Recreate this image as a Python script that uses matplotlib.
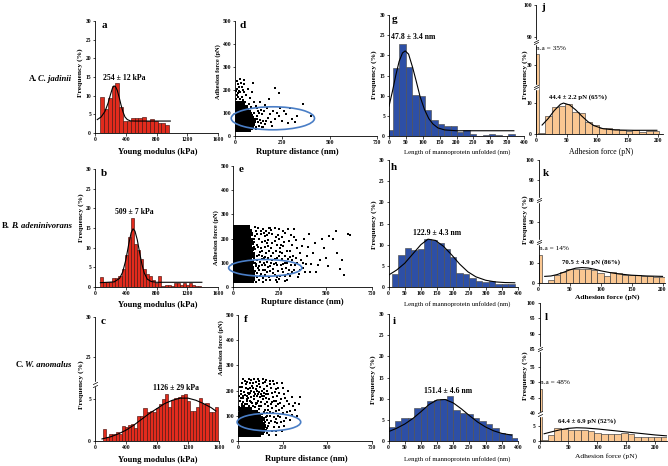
import matplotlib
matplotlib.use('Agg')
import matplotlib.pyplot as plt
from matplotlib.patches import Ellipse
from matplotlib.ticker import NullLocator
from matplotlib.transforms import offset_copy
import numpy as np

plt.rcParams['font.family'] = ['Liberation Serif', 'DejaVu Serif']
plt.rcParams['font.weight'] = 'bold'

W, H = 668, 466

# ---------------- data ----------------
# Young modulus histograms (kPa, %)
a_start, a_width = 65, 50
a_freq = [9.6, 6.5, 9.4, 12.5, 13.3, 7.0, 3.3, 3.3, 4.0, 4.0, 4.0, 4.2, 3.3, 3.8, 3.3, 2.8, 2.8, 2.2]
a_fit = [(30, 3.6), (80, 4.3), (130, 5.8), (170, 8.0), (200, 10.2), (225, 11.9), (245, 12.6), (265, 12.5),
         (290, 11.4), (315, 9.5), (340, 7.4), (365, 5.6), (390, 4.3), (420, 3.6), (460, 3.25), (520, 3.2), (980, 3.2)]

b_start, b_width = 65, 40
b_freq = [2.5, 1.2, 1.2, 1.3, 2.2, 2.2, 2.8, 4.5, 8.2, 12.6, 17.6, 11.0, 9.5, 7.0, 4.6, 3.2, 2.7, 1.8, 1.0,
          2.8, 0.3, 0.6, 0.6, 0.3, 0.9, 0.9, 0.6, 0.9, 0.5, 0.9, 0.6, 0.3, 0.3]
b_fit = [(70, 1.1), (250, 1.3), (320, 2.2), (360, 3.8), (400, 6.8), (440, 11.0), (470, 13.8), (495, 14.8),
         (520, 14.2), (550, 12.0), (580, 8.8), (610, 5.8), (640, 3.6), (680, 2.0), (730, 1.4), (800, 1.2), (1390, 1.2)]

c_start, c_width = 105, 40
c_freq = [1.5, 0.5, 0.8, 0.9, 1.1, 0.8, 1.8, 1.7, 1.9, 2.0, 1.6, 3.0, 3.0, 4.0, 3.5, 3.6, 3.5, 4.0, 4.4,
          5.0, 5.6, 4.1, 4.9, 5.2, 5.3, 5.5, 5.6, 4.8, 3.6, 3.6, 4.1, 5.2, 4.4, 4.6, 3.5, 3.5, 4.1]
c_fit = [(90, 0.25), (200, 0.5), (300, 0.85), (400, 1.3), (500, 1.9), (600, 2.6), (700, 3.3), (800, 3.9),
         (900, 4.5), (1000, 4.9), (1100, 5.15), (1200, 5.15), (1300, 4.9), (1400, 4.5), (1500, 4.0), (1560, 3.6)]

# adhesion force vs rupture distance (nm, pN): dense cores as rows (force, [distances]) + scattered points
d_core = [(24, [4, 15, 27, 38, 50, 61, 74]), (33, [9, 21, 32, 44, 56, 68, 82]),
          (43, [3, 14, 26, 37, 49, 60, 72, 88]), (52, [8, 19, 31, 42, 54, 66, 79, 95]),
          (61, [4, 15, 26, 38, 50, 62, 75, 90]), (70, [9, 20, 32, 43, 55, 68, 82, 100]),
          (79, [3, 14, 25, 37, 49, 61, 74, 92]), (88, [8, 19, 30, 42, 54, 67, 83]),
          (97, [4, 15, 26, 38, 50, 63, 78]), (106, [9, 20, 32, 44, 57, 72]),
          (115, [4, 15, 27, 39, 52, 66]), (124, [9, 21, 33, 46, 60]),
          (133, [5, 16, 28, 42]), (142, [10, 22, 35])]
d_pts = [(110, 30), (125, 45), (140, 38), (160, 52), (105, 62), (130, 70), (150, 64), (175, 80), (115, 88),
         (145, 95), (190, 60), (210, 75), (230, 88), (200, 110), (170, 120), (120, 108), (250, 65), (270, 95),
         (300, 75), (330, 88), (400, 85), (360, 140), (180, 160), (210, 210), (230, 185), (100, 150), (80, 165),
         (60, 180), (40, 200), (20, 215), (30, 232), (10, 240), (50, 225), (70, 205), (90, 190), (35, 170),
         (15, 185), (25, 160), (55, 150), (75, 140), (110, 130), (130, 150), (160, 135), (240, 120), (280, 55),
         (150, 40), (95, 230), (45, 245), (5, 195), (65, 110), (85, 125), (100, 100), (120, 60), (135, 115),
         (12, 205), (28, 190), (18, 170), (8, 150), (42, 158), (62, 128), (4, 162), (14, 228), (24, 248),
         (36, 212), (8, 178), (22, 196), (48, 190), (32, 148), (112, 40), (118, 75), (128, 98), (138, 55),
         (155, 110), (165, 65), (185, 95), (195, 45), (220, 100), (260, 110), (290, 120), (315, 60), (118, 120)]

e_core = [(25, [3, 19, 36, 53, 70, 87, 103]), (38, [9, 26, 43, 60, 77, 94, 108]),
          (51, [2, 18, 35, 52, 69, 86, 102]), (64, [10, 27, 44, 61, 78, 95, 110]),
          (77, [4, 21, 38, 55, 72, 89, 105]), (90, [11, 28, 45, 62, 79, 96]),
          (103, [3, 20, 37, 54, 71, 88, 104]), (116, [9, 26, 43, 60, 77, 94]),
          (129, [4, 21, 38, 55, 72, 89, 106]), (142, [10, 27, 44, 61, 78, 95]),
          (155, [3, 20, 37, 54, 71, 88, 102]), (168, [9, 26, 43, 60, 77, 94]),
          (181, [4, 21, 38, 55, 72, 89, 104]), (194, [10, 27, 44, 61, 78, 96]),
          (207, [3, 20, 37, 54, 71, 88]), (220, [9, 26, 43, 60, 77, 95]),
          (233, [4, 21, 38, 55, 72, 90]), (246, [10, 27, 44, 61, 80])]
e_pts = [(115, 30), (128, 42), (140, 28), (152, 55), (118, 68), (135, 80), (160, 72), (125, 95), (148, 105),
         (170, 90), (112, 120), (138, 132), (165, 118), (185, 60), (195, 40), (178, 140), (120, 155), (150, 160),
         (190, 170), (115, 185), (140, 200), (170, 210), (125, 230), (160, 240), (195, 225), (205, 100), (215, 75),
         (225, 50), (240, 120), (230, 150), (210, 180), (250, 200), (260, 90), (270, 60), (280, 130), (290, 100),
         (300, 70), (310, 45), (250, 35), (320, 110), (335, 90), (345, 160), (300, 190), (270, 230), (330, 240),
         (360, 70), (380, 100), (400, 130), (420, 95), (440, 180), (450, 60), (470, 110), (490, 160), (510, 85),
         (520, 210), (540, 200), (560, 140), (575, 75), (600, 50), (620, 220), (290, 30), (230, 30), (185, 105),
         (205, 130), (220, 95), (245, 65), (265, 115), (285, 80), (175, 50), (155, 130), (195, 150), (210, 220),
         (235, 175), (255, 160), (275, 185), (310, 150), (340, 120), (370, 170), (390, 60), (410, 220), (430, 140),
         (460, 90), (480, 200), (500, 120), (112, 48), (130, 58), (145, 45), (162, 38), (178, 28), (122, 85),
         (142, 70), (168, 100), (190, 82), (200, 65), (132, 112), (155, 92), (175, 125), (115, 140), (145, 145),
         (170, 165), (190, 195), (130, 175), (155, 185), (180, 230), (120, 210), (150, 220), (200, 245), (215, 140),
         (225, 115), (240, 90), (255, 45), (265, 140), (280, 100), (320, 60), (350, 40), (365, 110), (305, 125),
         (330, 205), (250, 240), (230, 205), (260, 175), (555, 230), (630, 215), (590, 110),
         (118, 250), (135, 245), (150, 232), (165, 225), (185, 215), (205, 235), (225, 245), (245, 215),
         (262, 205), (282, 222), (298, 240), (315, 215), (118, 100), (128, 128), (142, 88), (158, 115),
         (172, 72), (188, 120), (202, 85), (218, 58), (232, 100), (248, 130), (262, 75), (278, 45), (295, 115),
         (312, 90), (328, 70), (345, 100), (125, 20), (160, 22), (200, 28), (240, 22), (280, 25), (112, 165),
         (135, 165), (158, 150), (182, 180), (205, 160), (228, 190), (252, 145), (272, 170), (292, 150),
         (318, 175), (340, 195), (360, 140), (375, 80), (395, 95), (415, 60), (112, 200), (132, 220),
         (172, 190), (192, 245), (212, 110), (238, 40), (268, 95), (298, 55), (325, 130), (355, 55),
         (385, 200), (405, 165)]

f_core = [(22, [8, 22, 36, 50, 64, 78, 92, 106, 120]), (31, [4, 18, 32, 46, 60, 74, 88, 102, 118, 132]),
          (41, [11, 25, 39, 53, 67, 81, 95, 110, 125, 140]), (50, [5, 19, 33, 47, 61, 75, 89, 104, 122, 138]),
          (60, [12, 26, 40, 54, 68, 82, 96, 112, 130, 145]), (69, [6, 20, 34, 48, 62, 76, 90, 106, 125, 140]),
          (79, [13, 27, 41, 55, 69, 83, 98, 115, 130]), (88, [7, 21, 35, 49, 63, 77, 92, 108, 122, 138]),
          (98, [14, 28, 42, 56, 70, 85, 100, 115]), (107, [8, 22, 36, 50, 64, 79, 95, 110]),
          (117, [15, 29, 43, 57, 72, 88, 102]), (126, [9, 23, 37, 51, 66])]
f_pts = [(140, 30), (155, 45), (170, 60), (150, 75), (135, 95), (165, 100), (185, 80), (200, 55), (215, 40),
         (180, 115), (150, 125), (120, 138), (100, 145), (80, 150), (60, 140), (40, 148), (20, 140), (10, 160),
         (30, 170), (50, 165), (70, 175), (90, 168), (110, 160), (130, 155), (150, 148), (170, 140), (190, 130),
         (210, 120), (225, 100), (240, 75), (250, 110), (270, 90), (290, 120), (310, 140), (330, 100), (345, 175),
         (15, 185), (35, 195), (55, 190), (75, 200), (95, 185), (115, 195), (135, 180), (155, 170), (175, 165),
         (195, 175), (215, 160), (235, 150), (255, 185), (275, 160), (25, 215), (45, 225), (65, 210), (85, 230),
         (105, 220), (125, 215), (145, 205), (165, 200), (185, 210), (205, 195), (225, 210), (245, 230), (40, 240),
         (60, 248), (90, 245), (120, 240), (150, 235), (180, 238), (20, 230), (100, 205), (140, 230), (200, 225),
         (160, 220), (220, 180), (125, 175), (85, 210), (55, 172), (65, 232), (30, 155), (105, 178), (145, 190),
         (190, 155), (210, 140), (230, 125), (240, 165), (260, 140), (280, 200), (300, 175), (320, 150), (160, 110),
         (200, 95), (220, 70), (190, 38), (175, 25), (230, 55), (260, 60), (140, 60), (130, 45), (145, 115),
         (118, 128), (95, 135), (70, 130), (45, 132), (25, 135), (12, 120), (2, 100), (160, 85), (180, 100),
         (205, 75), (48, 158), (72, 155), (98, 152), (15, 172), (38, 182), (62, 188), (88, 195), (112, 185),
         (132, 198), (158, 188),
         (8, 135), (22, 148), (35, 138), (52, 145), (68, 160), (82, 140), (108, 150), (128, 140), (142, 165),
         (162, 155), (182, 148), (202, 160), (222, 145), (18, 200), (42, 210), (58, 205), (78, 218), (98, 235),
         (118, 228), (138, 245), (158, 242), (178, 225), (198, 240), (218, 232), (28, 245), (48, 235), (72, 242),
         (112, 248), (10, 215), (8, 178), (28, 180), (48, 178), (68, 190), (88, 178), (108, 198), (128, 188),
         (148, 178), (168, 185), (188, 190), (210, 205), (232, 190), (250, 210), (145, 35), (160, 50), (175, 70),
         (130, 85), (155, 95), (170, 125), (195, 110), (210, 88), (235, 95), (255, 80), (275, 115), (290, 85),
         (305, 105), (320, 125), (340, 145), (245, 130), (265, 170), (285, 145), (212, 25), (248, 40),
         (132, 108), (122, 70), (138, 50), (165, 30)]

# ellipses (centre x, centre y, width, height) in nm / pN
d_ell = (200, 77, 440, 100)
e_ell = (174, 79, 395, 69)
f_ell = (173, 75, 356, 70)

# mannoprotein length histograms (nm, %)
g_start, g_width = -7.5, 19
g_freq = [1.6, 16.8, 22.7, 17.0, 10.2, 9.8, 6.5, 4.0, 2.9, 2.5, 2.5, 1.1, 1.5, 0.4, 0.0, 0.2, 0.4, 0.3, 0.0, 0.4]
g_fit = [(0, 7.4), (10, 11), (20, 15), (30, 18.5), (40, 20.6), (48, 21.1), (58, 20.3), (70, 17), (80, 13.8),
         (92, 9.8), (105, 6.6), (118, 4.3), (130, 3.0), (145, 2.0), (165, 1.5), (200, 1.3), (370, 1.3)]

h_start, h_width = 10, 20
h_freq = [3.1, 7.5, 9.2, 8.7, 9.0, 11.3, 11.0, 10.5, 9.0, 7.2, 3.2, 3.1, 2.1, 1.3, 1.2, 1.3, 0.6, 0.6, 0.6]
h_fit = [(0, 2.8), (25, 4.0), (50, 5.6), (75, 7.8), (100, 10.0), (122, 11.3), (145, 11.0), (170, 9.6),
         (195, 7.6), (220, 5.4), (245, 3.6), (270, 2.4), (300, 1.6), (330, 1.2), (360, 1.05), (390, 1.0)]

i_start, i_width = 0, 20
i_freq = [3.2, 4.8, 5.4, 5.5, 7.8, 8.0, 9.4, 9.7, 10.0, 10.7, 7.4, 6.6, 6.4, 5.5, 4.7, 4.0, 3.0, 2.0, 1.6, 0.7]
i_fit = [(0, 2.2), (25, 3.0), (50, 4.0), (75, 5.3), (100, 6.9), (125, 8.6), (150, 9.7), (175, 9.8),
         (200, 9.0), (225, 7.6), (250, 6.0), (275, 4.5), (300, 3.3), (325, 2.4), (350, 1.8), (380, 1.4)]

# adhesion force histograms (pN, %), first bar = non-adhesive events
j_na, k_na, l_na = 35, 14, 48
j_start, j_width = 4, 11
j_freq = [0.3, 5.8, 8.8, 9.2, 9.6, 7.0, 6.8, 4.0, 2.8, 2.0, 1.8, 1.6, 1.4, 1.0, 1.2, 0.8, 1.0, 1.0]
j_fit = [(10, 2.9), (20, 5.0), (30, 7.6), (40, 9.6), (45, 10.0), (55, 9.4), (65, 7.8), (75, 5.8), (85, 4.0),
         (95, 2.7), (110, 1.7), (130, 1.3), (160, 1.2), (198, 1.2)]

k_start, k_width = 15, 10
k_freq = [1.7, 3.9, 5.5, 6.8, 7.2, 7.2, 6.8, 6.4, 5.0, 3.4, 5.5, 4.8, 4.2, 4.2, 3.9, 3.6, 3.6, 3.2, 3.2]
k_fit = [(10, 3.3), (20, 3.5), (30, 4.2), (40, 5.3), (50, 6.5), (60, 7.4), (70, 7.7), (80, 7.5), (90, 6.9),
         (100, 6.1), (115, 5.2), (130, 4.5), (150, 3.9), (175, 3.5), (200, 3.3)]

l_start, l_width = 2.5, 11.5
l_freq = [0.2, 2.1, 4.3, 3.9, 3.8, 3.6, 3.6, 3.2, 2.8, 2.4, 2.2, 2.4, 2.6, 2.4, 1.4, 1.4, 1.4, 1.3, 1.2]
l_fit = [(8, 2.4), (20, 3.0), (35, 3.7), (50, 4.2), (64, 4.4), (80, 4.3), (100, 4.0), (120, 3.6), (140, 3.2),
         (160, 2.8), (180, 2.4), (200, 2.0), (220, 1.7)]

# broken y axes: value breakpoints -> drawn height
c_break = ([0, 6.8, 21.6, 30], [0, 56.6, 56.8, 124])
j_break = ([0, 15.2, 20, 40.5, 88.4, 100], [0, 47, 47.01, 92, 92.01, 129])
k_break = ([0, 20.5, 40, 60.8, 80, 100], [0, 41, 41.01, 82.6, 82.7, 122.7])
l_break = ([0, 9.1, 40, 60.7, 85, 100], [0, 27.3, 27.4, 91.6, 91.7, 137.4])

RED, RED_E = '#e22b1d', '#4a1510'
BLUE, BLUE_E = '#2d4fa6', '#505050'
ORANGE, ORANGE_E = '#fac792', '#3a3a3a'
ELL = '#4a7ec6'

fig = plt.figure(figsize=(W / 100, H / 100), dpi=100)


def px_axes(l, t, r, b):
    ax = fig.add_axes([l / W, 1 - b / H, (r - l) / W, (b - t) / H])
    ax.spines['top'].set_visible(False)
    ax.spines['right'].set_visible(False)
    for s in ('left', 'bottom'):
        ax.spines[s].set_linewidth(0.6)
    ax.tick_params(labelsize=4, width=0.5, length=1.8, pad=1)
    return ax


def ftext(x, y, s, size, ha='center', weight='bold', rot=0, style='normal'):
    fig.text(x / W, 1 - y / H, s, fontsize=size, ha=ha, va='center', fontweight=weight,
             rotation=rot, fontstyle=style)


def hist(ax, start, width, freq, color, edge):
    left = start + width * np.arange(len(freq))
    ax.bar(left, freq, width=width, align='edge', color=color, edgecolor=edge, linewidth=0.45)


def fit(ax, pts):
    ax.plot([p[0] for p in pts], [p[1] for p in pts], color='black', lw=0.8)


def broken(ax, brk, ticks, marks):
    vs, hs = brk
    ax.set_yscale('function', functions=(lambda v: np.interp(v, vs, hs), lambda h: np.interp(h, hs, vs)))
    ax.set_ylim(0, vs[-1])
    ax.set_yticks(ticks)
    ax.yaxis.set_minor_locator(NullLocator())
    tr = ax.get_yaxis_transform()
    for yb in marks:
        ax.plot([0], [yb], marker='s', ms=2.6, color='white', mec='white', transform=tr, clip_on=False, zorder=5)
        for dy in (-0.9, 0.9):
            t = offset_copy(tr, fig=fig, x=0, y=dy, units='points')
            ax.plot([0], [yb], marker=[(-1, -0.5), (1, 0.5)], ms=3.5, mew=0.5, color='black',
                    transform=t, clip_on=False, zorder=6)


def cloud(ax, core, pts, ell):
    cx = [x for y, xs in core for x in xs]
    cy = [y for y, xs in core for x in xs]
    ax.scatter(cx, cy, s=9, color='black', linewidths=0, marker='s')
    ax.scatter([p[0] for p in pts], [p[1] for p in pts], s=1.6, color='black', linewidths=0, marker='s')
    ax.add_patch(Ellipse(ell[:2], ell[2], ell[3], fill=False, edgecolor=ELL, lw=1.2, clip_on=False, zorder=4))
    ax.set_xlim(0, 750)
    ax.set_ylim(0, 500)
    ax.set_xticks([0, 250, 500, 750])
    ax.set_yticks([0, 100, 200, 300, 400, 500])


# ---------------- Young modulus ----------------
for box, start, width, freq, fpts in [((95, 21, 218, 133), a_start, a_width, a_freq, a_fit),
                                      ((95, 169, 218, 287), b_start, b_width, b_freq, b_fit),
                                      ((95, 317, 219, 441), c_start, c_width, c_freq, c_fit)]:
    ax = px_axes(*box)
    hist(ax, start, width, freq, RED, RED_E)
    fit(ax, fpts)
    ax.set_xlim(0, 1600)
    ax.set_xticks([0, 400, 800, 1200, 1600])
    if freq is c_freq:
        broken(ax, c_break, [0, 5, 25, 30], [14])
    else:
        ax.set_ylim(0, 30)
        ax.set_yticks([0, 5, 10, 15, 20, 25, 30])

# ---------------- scatter ----------------
for box, core, pts, ell in [((235, 21, 377, 136), d_core, d_pts, d_ell),
                            ((233, 166, 372, 287), e_core, e_pts, e_ell),
                            ((238, 315, 372, 441), f_core, f_pts, f_ell)]:
    ax = px_axes(*box)
    cloud(ax, core, pts, ell)

# ---------------- mannoprotein length ----------------
for box, start, width, freq, fpts in [((389, 15, 524, 136), g_start, g_width, g_freq, g_fit),
                                      ((388.5, 160, 518, 287), h_start, h_width, h_freq, h_fit),
                                      ((388.5, 314, 518, 441), i_start, i_width, i_freq, i_fit)]:
    ax = px_axes(*box)
    hist(ax, start, width, freq, BLUE, BLUE_E)
    fit(ax, fpts)
    ax.set_xlim(0, 400)
    ax.set_xticks(range(0, 401, 50))
    ax.set_ylim(0, 30)
    ax.set_yticks([0, 5, 10, 15, 20, 25, 30])

# ---------------- adhesion force ----------------
for box, na, start, width, freq, fpts, brk, ticks, marks, xmax in [
        ((536, 5, 663, 134), j_na, j_start, j_width, j_freq, j_fit, j_break, [0, 10, 30, 90, 100], [17.5, 60], 208),
        ((538.5, 160, 665, 283), k_na, k_start, k_width, k_freq, k_fit, k_break, [0, 10, 40, 50, 80, 90, 100],
         [30, 70], 204),
        ((539.5, 303, 667, 441), l_na, l_start, l_width, l_freq, l_fit, l_break,
         [0, 5, 40, 45, 50, 55, 85, 90, 95, 100], [25, 72], 220)]:
    ax = px_axes(*box)
    ax.bar([0.5], [na], width=4.5, align='edge', color=ORANGE, edgecolor=ORANGE_E, linewidth=0.45)
    hist(ax, start, width, freq, ORANGE, ORANGE_E)
    fit(ax, fpts)
    ax.set_xlim(0, xmax)
    ax.set_xticks([0, 50, 100, 150, 200])
    broken(ax, brk, ticks, marks)

# ---------------- texts ----------------
ftext(29, 79, 'A.', 6.2, ha='left')
ftext(38.5, 79, 'C. jadinii', 6.2, ha='left', style='italic')
ftext(2, 226, 'B.', 6.2, ha='left')
ftext(11, 226, 'B. adeninivorans', 6.2, ha='left', style='italic')
ftext(16, 365, 'C.', 6.2, ha='left')
ftext(25, 365, 'W. anomalus', 6.2, ha='left', style='italic')

for x, y, s in [(104, 25, 'a'), (104, 174, 'b'), (103, 321, 'c'), (243, 25, 'd'), (241, 170, 'e'),
                (246, 320, 'f'), (395, 20, 'g'), (394, 167, 'h'), (394, 321, 'i'), (543, 8, 'j'),
                (546, 173, 'k'), (546, 318, 'l')]:
    ftext(x, y, s, 8)

ftext(124, 78, '254 ± 12 kPa', 5.6)
ftext(134, 212, '509 ± 7 kPa', 5.6)
ftext(176, 388, '1126 ± 29 kPa', 5.6)
ftext(413, 37, '47.8 ± 3.4 nm', 5.6)
ftext(437, 233, '122.9 ± 4.3 nm', 5.6)
ftext(448, 391, '151.4 ± 4.6 nm', 5.6)
ftext(536, 48, 'n.a = 35%', 5.2, ha='left', weight='normal')
ftext(578, 97, '44.4 ± 2.2 pN (65%)', 4.9)
ftext(539, 249, 'n.a = 14%', 5.2, ha='left', weight='normal')
ftext(591, 262, '70.5 ± 4.9 pN (86%)', 4.9)
ftext(540, 382, 'n.a = 48%', 5.2, ha='left', weight='normal')
ftext(587, 421, '64.4 ± 6.9 pN (52%)', 4.9)

for y in (152, 305, 460):
    ftext(158, y, 'Young modulus (kPa)', 6.2)
for x, y in ((297, 152), (302, 302), (306, 459)):
    ftext(x, y, 'Rupture distance (nm)', 6.2)
for y in (152, 304, 459):
    ftext(457, y, 'Length of mannoprotein unfolded (nm)', 4.9, weight='normal')
ftext(601, 152, 'Adhesion force (pN)', 5.6, weight='normal')
ftext(607, 297, 'Adhesion force (pN)', 5.4)
ftext(606, 456, 'Adhesion force (pN)', 5.4, weight='normal')

for x, y in ((80, 73), (81, 218), (81, 385), (374, 75), (374, 225), (373, 380), (525, 75), (525, 220),
             (525, 376)):
    ftext(x, y, 'Frequency (%)', 5.4, rot=90)
for x, y in ((218.5, 72), (216.5, 238), (221.5, 348)):
    ftext(x, y, 'Adhesion force (pN)', 4.6, rot=90)

fig.savefig('out.png', dpi=100)
